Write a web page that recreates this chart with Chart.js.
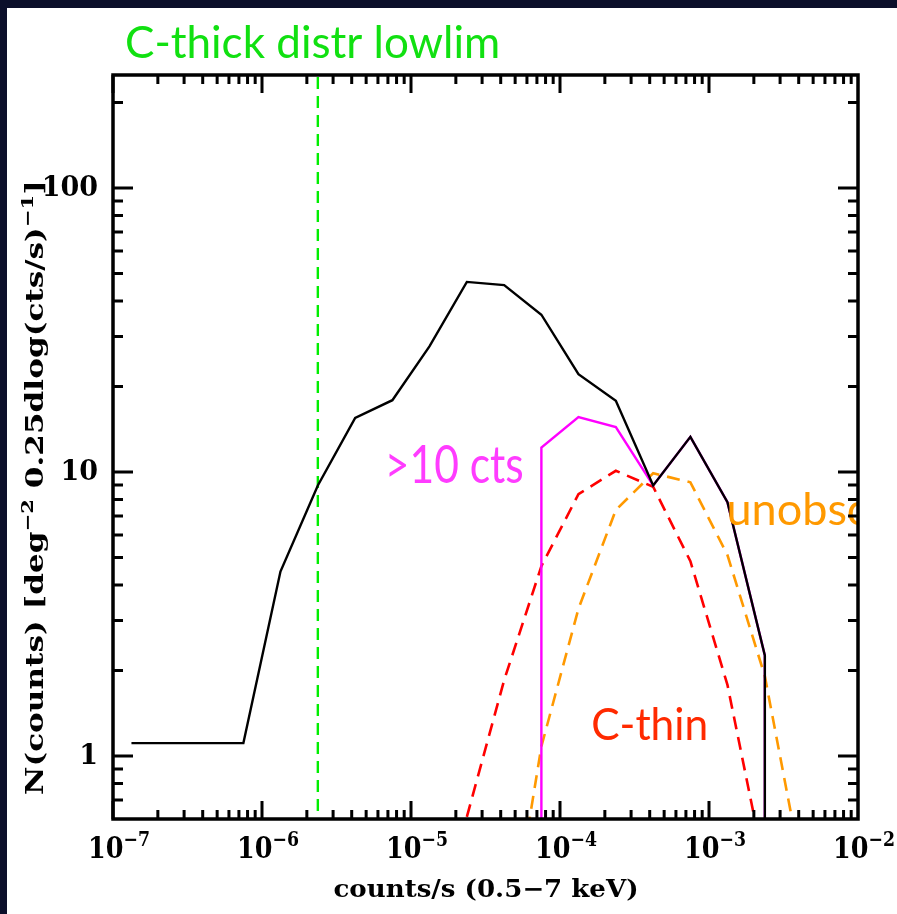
<!DOCTYPE html>
<html>
<head>
    <title>C-thick distr lowlim</title>
    <script src="https://cdn.jsdelivr.net/npm/chart.js@4.4.0/dist/chart.umd.min.js"></script>
    <style>
        html, body {
            margin: 0;
            padding: 0;
            background: #0b0f2a;
            overflow: hidden;
        }
        canvas {
            display: block;
        }
    </style>
</head>
<body>
    <canvas id="nChart" width="897" height="914"></canvas>

    <script>
        // empty bin: below the bottom of the axis, so the line drops straight down
        const EMPTY = 0.01;

        // all sources (black), 0.25 dex bins in counts/s
        const totalX = [1.33e-7, 2.37e-7, 4.22e-7, 7.5e-7, 1.33e-6, 2.37e-6, 4.22e-6, 7.5e-6,
                        1.33e-5, 2.37e-5, 4.22e-5, 7.5e-5, 1.33e-4, 2.37e-4, 4.22e-4, 7.5e-4,
                        1.33e-3, 2.37e-3, 2.37e-3];
        const totalY = [1.11, 1.11, 1.11, 1.11, 4.46, 8.97, 15.5, 17.9,
                        27.7, 46.7, 45.5, 35.8, 22.1, 17.8, 8.97, 13.3,
                        7.83, 2.26, EMPTY];

        // sources with >10 counts (magenta)
        const brightX = [7.5e-5, 7.5e-5, 1.33e-4, 2.37e-4, 4.22e-4, 7.5e-4, 1.33e-3, 2.37e-3, 2.37e-3];
        const brightY = [EMPTY, 12.2, 15.6, 14.4, 8.97, 13.3, 7.83, 2.26, EMPTY];

        // Compton-thin (red dashed)
        const thinX = [2.37e-5, 4.22e-5, 7.5e-5, 1.33e-4, 2.37e-4, 4.22e-4, 7.5e-4, 1.33e-3, 2.37e-3];
        const thinY = [0.61, 1.85, 4.66, 8.36, 10.1, 8.87, 4.85, 1.78, 0.40];

        // unobscured (orange dashed)
        const unobsX = [4.22e-5, 7.5e-5, 1.33e-4, 2.37e-4, 4.22e-4, 7.5e-4, 1.33e-3, 2.37e-3, 4.22e-3];
        const unobsY = [0.17, 1.08, 3.3, 7.35, 9.9, 9.2, 5.1, 1.91, 0.39];

        // C-thick distribution lower limit (green dashed)
        const lowLim = 2.37e-6;

        const xMin = 1e-7, xMax = 1e-2;
        const yMin = 0.64, yMax = 250;
        const xTickValues = [1e-7, 1e-6, 1e-5, 1e-4, 1e-3, 1e-2];
        const xTickExps = ['\u22127', '\u22126', '\u22125', '\u22124', '\u22123', '\u22122'];
        const yTickValues = [1, 10, 100];
        const yTickLabels = ['1', '10', '100'];

        const axisFont = '"DejaVu Serif", serif';
        const noteFont = 'Lato, "Open Sans", sans-serif';

        function pts(xs, ys) {
            return xs.map((x, i) => ({ x: x, y: ys[i] }));
        }

        // text with superscript pieces: runs = [[text, isSup], ...]
        function richWidth(ctx, runs, size) {
            let w = 0;
            runs.forEach(r => {
                ctx.font = 'bold ' + (r[1] ? size * 0.68 : size) + 'px ' + axisFont;
                w += ctx.measureText(r[0]).width;
            });
            return w;
        }
        // draws runs starting at x, stretched horizontally to width w
        function drawRich(ctx, runs, x, y, size, w) {
            const sx = w / richWidth(ctx, runs, size);
            ctx.save();
            ctx.translate(x, y);
            ctx.scale(sx, 1);
            let cx = 0;
            runs.forEach(r => {
                ctx.font = 'bold ' + (r[1] ? size * 0.68 : size) + 'px ' + axisFont;
                ctx.fillText(r[0], cx, r[1] ? -size * 0.42 : 0);
                cx += ctx.measureText(r[0]).width;
            });
            ctx.restore();
        }

        const annotations = [
            { text: '>10 cts', x: 6.67e-6, y: 9.13, color: '#ff3cff', size: 53, maxW: 139 },
            { text: 'C-thin', x: 1.62e-4, y: 1.14, color: '#ff2a00', size: 45, maxW: 117 },
            { text: 'unobsc', x: 1.31e-3, y: 6.5, color: '#ff9900', size: 45, maxW: 150 }
        ];

        const framePlugin = {
            id: 'frame',
            beforeDraw(chart) {
                const ctx = chart.ctx;
                ctx.save();
                ctx.fillStyle = '#0b0f2a';
                ctx.fillRect(0, 0, chart.width, chart.height);
                ctx.fillStyle = '#ffffff';
                ctx.fillRect(7, 8, chart.width - 7, chart.height - 8);
                ctx.restore();
            },
            afterDatasetsDraw(chart) {
                const ctx = chart.ctx;
                const a = chart.chartArea;
                const xs = chart.scales.x, ys = chart.scales.y;
                ctx.save();
                ctx.beginPath();
                ctx.rect(a.left, a.top, a.right - a.left, a.bottom - a.top);
                ctx.clip();
                ctx.textBaseline = 'alphabetic';
                ctx.textAlign = 'left';
                annotations.forEach(n => {
                    ctx.font = n.size + 'px ' + noteFont;
                    ctx.fillStyle = n.color;
                    ctx.fillText(n.text, xs.getPixelForValue(n.x), ys.getPixelForValue(n.y), n.maxW);
                });
                ctx.restore();
            },
            afterDraw(chart) {
                const ctx = chart.ctx;
                const a = chart.chartArea;
                const xs = chart.scales.x, ys = chart.scales.y;
                ctx.save();
                ctx.strokeStyle = '#000';
                ctx.fillStyle = '#000';

                // ticks, inward on all four sides
                ctx.lineWidth = 3;
                ctx.beginPath();
                for (let d = -7; d < -2; d++) {
                    for (let k = 1; k <= 9; k++) {
                        const px = xs.getPixelForValue(k * Math.pow(10, d));
                        const len = k === 1 ? 18 : 9;
                        ctx.moveTo(px, a.bottom); ctx.lineTo(px, a.bottom - len);
                        ctx.moveTo(px, a.top); ctx.lineTo(px, a.top + len);
                    }
                }
                for (let d = -1; d <= 2; d++) {
                    for (let k = 1; k <= 9; k++) {
                        const v = k * Math.pow(10, d);
                        if (v < yMin || v > yMax) continue;
                        const py = ys.getPixelForValue(v);
                        const len = k === 1 ? 20 : 10;
                        ctx.moveTo(a.left, py); ctx.lineTo(a.left + len, py);
                        ctx.moveTo(a.right, py); ctx.lineTo(a.right - len, py);
                    }
                }
                ctx.stroke();

                // frame
                ctx.lineWidth = 3.5;
                ctx.strokeRect(a.left, a.top, a.right - a.left, a.bottom - a.top);

                // x tick labels
                ctx.textBaseline = 'alphabetic';
                ctx.textAlign = 'left';
                xTickValues.forEach((v, i) => {
                    const runs = [['10', false], [xTickExps[i], true]];
                    drawRich(ctx, runs, xs.getPixelForValue(v) - 25, 858, 29, 62);
                });

                // y tick labels
                ctx.textAlign = 'right';
                ctx.textBaseline = 'middle';
                ctx.font = 'bold 27px ' + axisFont;
                yTickValues.forEach((v, i) => {
                    ctx.fillText(yTickLabels[i], 98, ys.getPixelForValue(v) + 1);
                });

                // axis titles
                ctx.textAlign = 'left';
                ctx.textBaseline = 'alphabetic';
                const xt = [['counts/s (0.5\u22127 keV)', false]];
                drawRich(ctx, xt, (a.left + a.right) / 2 - 152, 897, 24, 305);

                const yt = [['N(counts) [deg', false], ['\u22122', true],
                            [' 0.25dlog(cts/s)', false], ['\u22121', true], [']', false]];
                ctx.save();
                ctx.translate(43, 487);
                ctx.rotate(-Math.PI / 2);
                drawRich(ctx, yt, -308, 0, 25, 615);
                ctx.restore();

                // title
                ctx.font = '44px ' + noteFont;
                ctx.fillStyle = '#11e011';
                ctx.fillText('C-thick distr lowlim', 125, 58, 380);
                ctx.restore();
            }
        };

        const nChart = new Chart(document.getElementById('nChart').getContext('2d'), {
            type: 'line',
            data: {
                datasets: [{
                    label: 'all',
                    data: pts(totalX, totalY),
                    borderColor: '#000000',
                    borderWidth: 2.4
                }, {
                    label: '>10 cts',
                    data: pts(brightX, brightY),
                    borderColor: '#ff00ff',
                    borderWidth: 2.4
                }, {
                    label: 'unobsc',
                    data: pts(unobsX, unobsY),
                    borderColor: '#ff9900',
                    borderWidth: 2.6,
                    borderDash: [13, 8]
                }, {
                    label: 'C-thin',
                    data: pts(thinX, thinY),
                    borderColor: '#ff0000',
                    borderWidth: 2.6,
                    borderDash: [13, 8]
                }, {
                    label: 'lowlim',
                    data: [{ x: lowLim, y: yMin }, { x: lowLim, y: yMax }],
                    borderColor: '#00ee00',
                    borderWidth: 2.4,
                    borderDash: [12, 7]
                }]
            },
            options: {
                responsive: false,
                animation: false,
                devicePixelRatio: 1,
                layout: { padding: { left: 0, right: 39, top: 75, bottom: 0 } },
                elements: {
                    point: { radius: 0 },
                    line: { tension: 0, fill: false, borderCapStyle: 'butt', borderJoinStyle: 'miter' }
                },
                plugins: {
                    legend: { display: false },
                    tooltip: { enabled: false },
                    title: { display: false }
                },
                scales: {
                    x: {
                        type: 'logarithmic',
                        min: xMin,
                        max: xMax,
                        ticks: { display: false },
                        grid: { display: false },
                        border: { display: false },
                        afterFit: s => { s.height = 95; }
                    },
                    y: {
                        type: 'logarithmic',
                        min: yMin,
                        max: yMax,
                        ticks: { display: false },
                        grid: { display: false },
                        border: { display: false },
                        afterFit: s => { s.width = 113; }
                    }
                }
            },
            plugins: [framePlugin]
        });
    </script>
</body>
</html>
